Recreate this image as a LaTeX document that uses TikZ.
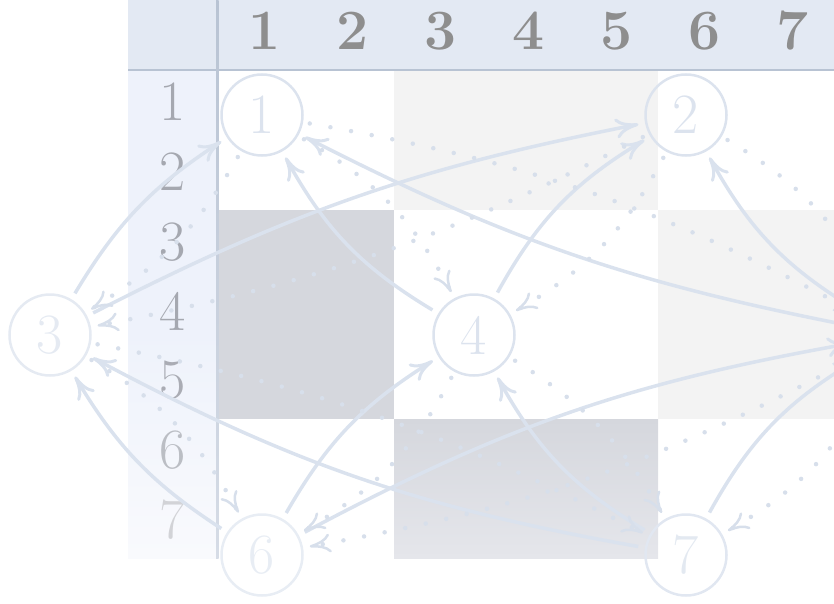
\documentclass[tikz,border=0pt]{standalone}
\usepackage{fontspec}
\usetikzlibrary{arrows.meta}
\definecolor{hdrblue}{HTML}{E3E9F3}
\definecolor{rowblue}{HTML}{EEF2FB}
\definecolor{rowbluelow}{HTML}{F9FAFD}
\definecolor{sepcol}{HTML}{B8C3D3}
\definecolor{seplow}{HTML}{D6DCE6}
\definecolor{lightblk}{HTML}{F3F3F3}
\definecolor{darkblk}{HTML}{D5D7DD}
\definecolor{darkblklow}{HTML}{E5E6EB}
\definecolor{edgecol}{HTML}{DAE2EE}
\definecolor{dotcol}{HTML}{D7DFEB}
\definecolor{hdrtext}{HTML}{8E8E8E}
\definecolor{rowtext}{HTML}{A5A8B0}
\definecolor{nodecol}{HTML}{DCE3EE}
\definecolor{nodetext}{HTML}{DCE3EE}
\begin{document}
\begin{tikzpicture}[x=1pt,y=-1pt,
  colhead/.style={font=\fontsize{57}{60}\selectfont\bfseries, text=hdrtext, inner sep=0pt},
  rowhead/.style={font=\fontsize{57}{60}\selectfont, text=rowtext, inner sep=0pt},
  vert/.style={circle, draw=nodecol, line width=2.5pt, minimum size=81pt, inner sep=0pt,
    outer sep=8pt, font=\fontsize{57}{60}\selectfont, text=nodetext},
  sedge/.style={draw=edgecol, line width=3.5pt,
    -{Computer Modern Rightarrow[length=23pt,width=20pt,line width=3pt]}},
  dedge/.style={draw=dotcol, line width=4.5pt, line cap=round, dash pattern=on 0pt off 21pt,
    -{Computer Modern Rightarrow[length=21pt,width=19pt,line width=2.5pt]}}
]
\useasboundingbox (0,0) rectangle (834,604);
% header backgrounds
\fill[hdrblue] (128,0) rectangle (834,70);
\fill[rowblue] (128,70) rectangle (217,330);
\shade[top color=rowblue, bottom color=rowbluelow] (128,330) rectangle (217,558);
% blocks
\fill[lightblk] (394,70) rectangle (658,210);
\fill[lightblk] (658,210) rectangle (834,419);
\fill[darkblk] (217,210) rectangle (394,419);
\shade[top color=darkblk, bottom color=darkblklow] (394,419) rectangle (658,558);
% separators
\fill[sepcol] (128,69) rectangle (834,71.5);
\shade[top color=sepcol, bottom color=seplow] (216,0) rectangle (218.5,558);
% column labels
\foreach \i/\x in {1/265,2/353,3/441,4/529,5/617,6/705,7/793}
  \node[colhead] (c\i) at (\x,31) {\i};
% row labels
\node[rowhead] (r1) at (173,102) {1};
\node[rowhead] (r2) at (173,172) {2};
\node[rowhead] (r3) at (173,242) {3};
\node[rowhead] (r4) at (173,311) {4};
\node[rowhead, text=rowtext!95!white] (r5) at (173,380) {5};
\node[rowhead, text=rowtext!75!white] (r6) at (173,450) {6};
\node[rowhead, text=rowtext!50!white] (r7) at (173,520) {7};
% graph nodes
\node[vert] (n1) at (262,115) {1};
\node[vert] (n2) at (686,115) {2};
\node[vert, draw=nodecol!75!white, text=nodecol!75!white] (n3) at (50,335) {3};
\node[vert] (n4) at (474,335) {4};
\node[vert] (n5) at (898,335) {5};
\node[vert, draw=nodecol!65!white, text=nodecol!65!white] (n6) at (262,555) {6};
\node[vert, draw=nodecol!85!white, text=nodecol!80!white] (n7) at (686,555) {7};
% solid edges
\draw[sedge] (n3) to[bend left=13] (n1);
\draw[sedge] (n3) to[bend left=8] (n2);
\draw[sedge] (n4) to[bend left=15] (n1);
\draw[sedge] (n4) to[bend left=15] (n2);
\draw[sedge] (n5) to[bend left=8] (n1);
\draw[sedge] (n5) to[bend left=15] (n2);
\draw[sedge] (n6) to[bend left=13] (n3);
\draw[sedge] (n6) to[bend left=14] (n4);
\draw[sedge] (n6) to[bend left=9] (n5);
\draw[sedge] (n7) to[bend left=9] (n3);
\draw[sedge] (n7) to[bend left=15] (n4);
\draw[sedge] (n7) to[bend left=15] (n5);
% dotted edges
\draw[dedge] (n1) to[bend left=14] (n3);
\draw[dedge] (n1) to[bend left=16] (n4);
\draw[dedge] (n1) to[bend left=9] (n5);
\draw[dedge] (n2) to[bend left=8] (n3);
\draw[dedge] (n2) to[bend left=16] (n4);
\draw[dedge] (n2) to[bend left=15] (n5);
\draw[dedge] (n3) to[bend left=15] (n6);
\draw[dedge] (n3) to[bend left=8] (n7);
\draw[dedge] (n4) to[bend left=16] (n6);
\draw[dedge] (n4) to[bend left=14] (n7);
\draw[dedge] (n5) to[bend left=9] (n6);
\draw[dedge] (n5) to[bend left=16] (n7);
\end{tikzpicture}
\end{document}
